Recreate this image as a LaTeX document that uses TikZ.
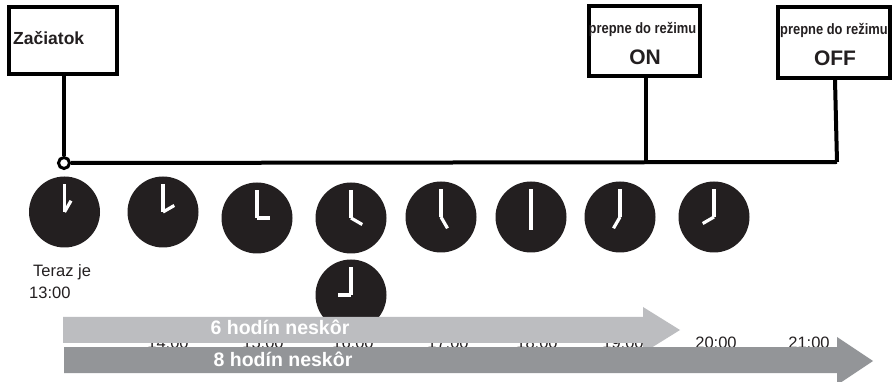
\documentclass[tikz,border=0pt]{standalone}
\usepackage{fontspec}
\setmainfont{Liberation Sans}
\definecolor{clockdark}{HTML}{231F20}
\definecolor{lightarrow}{HTML}{BCBDC0}
\definecolor{darkarrow}{HTML}{939598}
\definecolor{boxtext}{HTML}{231F20}
\tikzset{
  box/.style={draw=black, line width=4pt, fill=white, inner sep=0pt},
  conn/.style={draw=black, line width=4pt},
  clockface/.style={circle, fill=clockdark, minimum size=71pt, inner sep=0pt},
  hand/.style={draw=white, line width=3.2pt},
  small/.style={font=\fontsize{15}{15}\selectfont\bfseries, text=boxtext, inner sep=0pt},
  big/.style={font=\fontsize{21}{21}\selectfont\bfseries, text=boxtext, inner sep=0pt},
  timelbl/.style={font=\fontsize{16.5}{16.5}\selectfont, text=boxtext, inner sep=0pt},
  arrowtext/.style={font=\fontsize{19.5}{19.5}\selectfont\bfseries, text=white, inner sep=0pt}
}
\newcommand\drawclock[4]{%
  \node[clockface] (#1) at (#2,#3) {};
  \draw[hand] (#1.center) -- ++(0,-28);
  \draw[hand] (#1.center) -- ++(#4:13);
}
\begin{document}
\begin{tikzpicture}[x=1pt,y=-1pt]
\useasboundingbox[fill=white] (0,0) rectangle (895,382);

% boxes
\node[box, minimum width=108pt, minimum height=67pt] (start) at (63,40.5) {};
\node[font=\fontsize{17.5}{17.5}\selectfont\bfseries, text=boxtext, inner sep=0pt, anchor=west] (starttxt) at (13,38) {Začiatok};

\node[box, minimum width=111pt, minimum height=70pt] (onbox) at (644.5,41.5) {};
\node[small] (ontop) at (642.5,29) {\scalebox{0.86}[1]{prepne do režimu}};
\node[big] (ontxt) at (645,57) {ON};

\node[box, minimum width=112pt, minimum height=71pt] (offbox) at (834,42.5) {};
\node[small] (offtop) at (834,30) {\scalebox{0.86}[1]{prepne do režimu}};
\node[big] (offtxt) at (835,58) {OFF};

% connectors
\node[circle, draw=black, line width=3pt, fill=white, minimum size=11pt, inner sep=0pt] (jc) at (64,163) {};
\coordinate (jon) at (646,162);
\coordinate (joff) at (835,162);
\draw[conn] (start.south -| jc) -- (jc.north);
\draw[conn] (onbox.south -| jon) -- (jon);
\draw[conn] (offbox.south -| joff) -- ([xshift=2pt]joff);
\draw[conn] (jc.east) -- ([xshift=2pt]joff);

% clocks
\drawclock{c13}{64.5}{212}{-60}
\drawclock{c14}{163}{212}{-30}
\drawclock{c15}{257}{218}{0}
\drawclock{c16}{351}{218}{30}
\drawclock{c17}{441}{217}{60}
\drawclock{c18}{531}{217}{90}
\drawclock{c19}{620}{217}{120}
\drawclock{c20}{714}{217}{150}
\drawclock{c21}{351}{295}{180}

% now label
\node[timelbl, anchor=west] (now1) at (33,272) {Teraz je};
\node[timelbl, anchor=west] (now2) at (29,293) {13:00};

% hour labels (partly hidden behind arrows)
\node[timelbl] (t14) at (168,343) {14:00};
\node[timelbl] (t15) at (263,343) {15:00};
\node[timelbl] (t16) at (353,343) {16:00};
\node[timelbl] (t17) at (448,343) {17:00};
\node[timelbl] (t18) at (537,343) {18:00};
\node[timelbl] (t19) at (623,343) {19:00};
\node[timelbl] (t20) at (716,343) {20:00};
\node[timelbl] (t21) at (809,343) {21:00};

% arrows
\fill[lightarrow] (63,317) -- (643,317) -- (643,307) -- (680,330) -- (643,353) -- (643,343) -- (63,343) -- cycle;
\node[arrowtext] (six) at (280,327.5) {6 hodín neskôr};
\fill[darkarrow] (64,347) -- (837,347) -- (837,337) -- (873,361) -- (837,385) -- (837,373) -- (64,373) -- cycle;
\node[arrowtext] (eight) at (283,359.5) {8 hodín neskôr};
\end{tikzpicture}
\end{document}
